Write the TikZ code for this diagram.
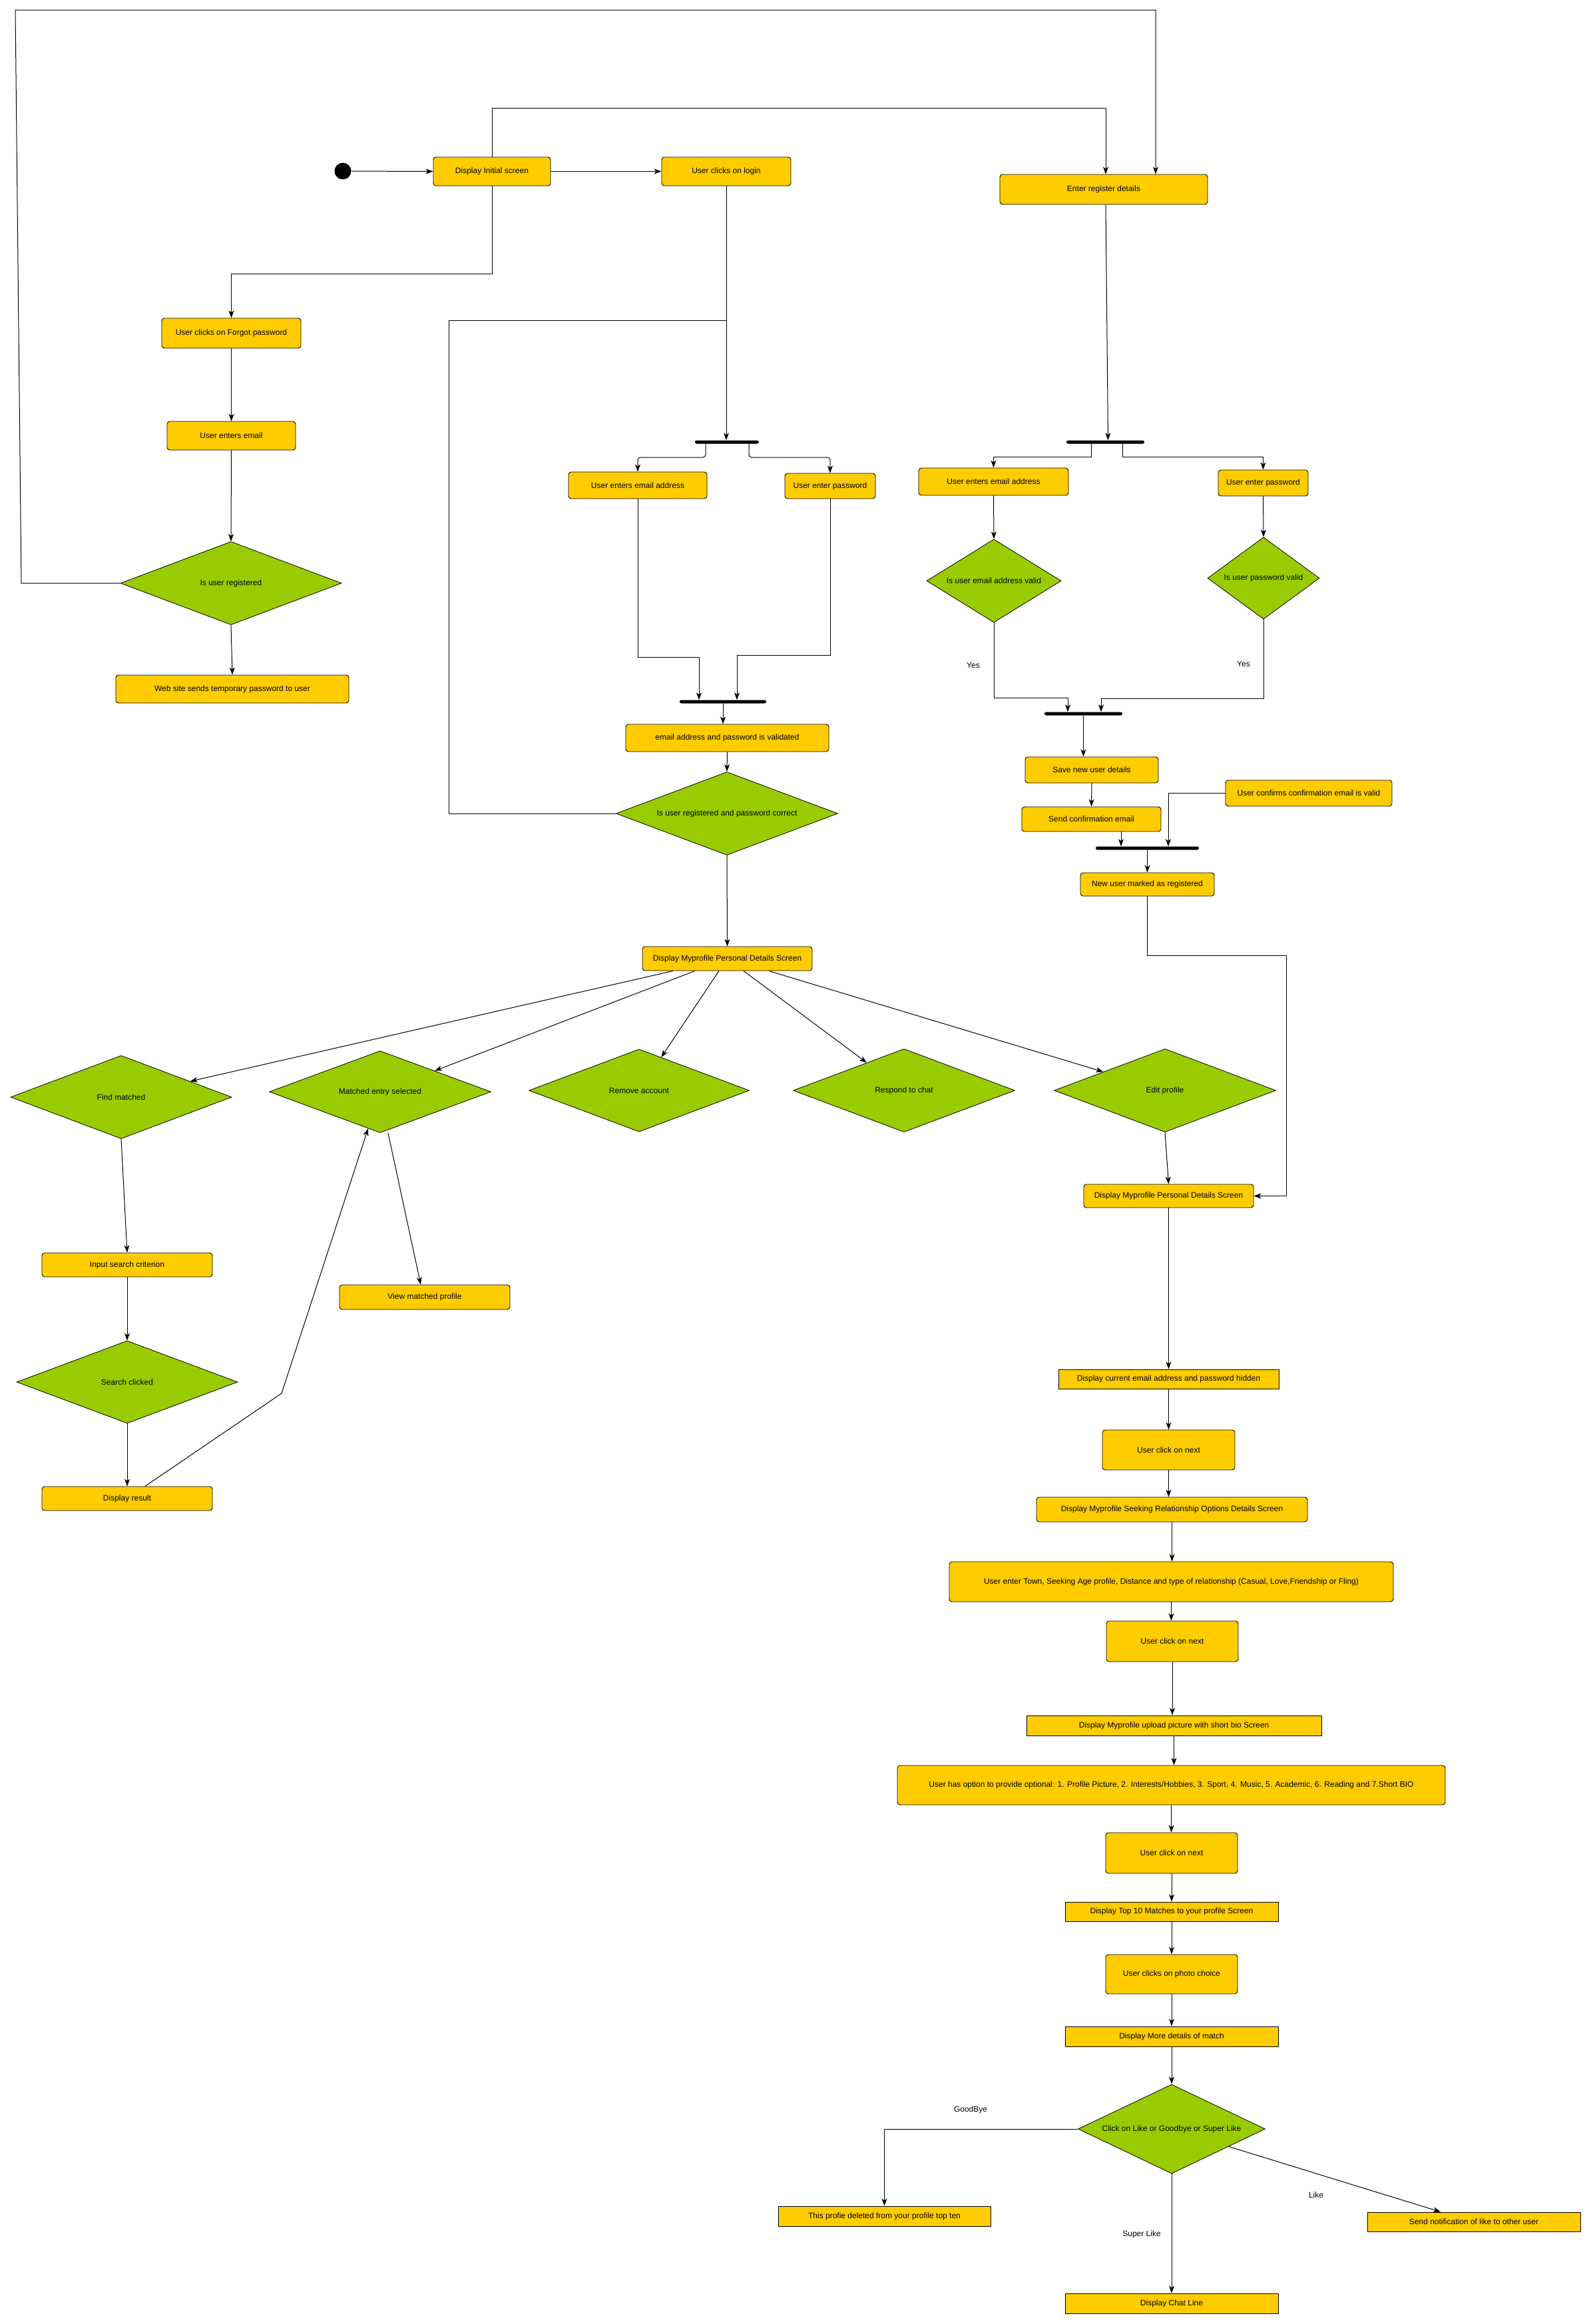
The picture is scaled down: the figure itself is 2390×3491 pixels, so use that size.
\documentclass[tikz,border=0pt]{standalone}
\usepackage{fontspec}
\setmainfont{Liberation Sans}
\usetikzlibrary{shapes.geometric,arrows.meta,calc}
\definecolor{actyellow}{RGB}{255,204,0}
\definecolor{decgreen}{RGB}{153,204,0}

\begin{document}
\begin{tikzpicture}[x=1pt, y=-1pt, font=\fontsize{12pt}{14pt}\selectfont,
    act/.style={draw=black, fill=actyellow, rounded corners=4pt, inner sep=2pt, line width=0.9pt},
    scr/.style={draw=black, fill=actyellow, inner sep=2pt, line width=0.9pt},
    dec/.style={diamond, draw=black, fill=decgreen, inner sep=0pt, aspect=2.66, line width=0.8pt},
    bar/.style={rectangle, fill=black, rounded corners=2.5pt, minimum height=5pt, inner sep=0pt},
    lbl/.style={inner sep=1pt},
    flow/.style={-{Stealth[length=11pt,width=8pt,inset=3pt]}, line width=1pt},
    link/.style={line width=1pt}]

\useasboundingbox (0,0) rectangle (2390,3491);
\fill[white] (0,0) rectangle (2390,3491);

% start and login branch
\node[circle, fill=black, minimum size=25pt, inner sep=0pt] (start) at (515,257) {};
\node[act, minimum width=176pt, minimum height=43pt] (init) at (739,257.5) {Display Initial screen};
\node[act, minimum width=194pt, minimum height=43pt] (login) at (1091,257.5) {User clicks on login};
\node[act, minimum width=312pt, minimum height=45pt] (reg) at (1658,284.5) {Enter register details};

% forgot password
\node[act, minimum width=209pt, minimum height=45pt] (forgot) at (347.5,500.5) {User clicks on Forgot password};
\node[act, minimum width=193pt, minimum height=43pt] (fmail) at (347.5,654.5) {User enters email};
\node[dec, minimum width=332pt, minimum height=125pt] (isreg) at (347,876) {Is user registered};
\node[act, minimum width=350pt, minimum height=42pt] (temp) at (349,1035) {Web site sends temporary password to user};

% login fork / join
\node[bar, minimum width=96pt] (fork1) at (1092,664) {};
\node[act, minimum width=208pt, minimum height=40pt] (lmail) at (958,729) {User enters email address};
\node[act, minimum width=136pt, minimum height=38pt] (lpass) at (1247,730) {User enter password};
\node[bar, minimum width=130pt] (join1) at (1086,1054) {};
\node[act, minimum width=305pt, minimum height=41pt] (valid) at (1092.5,1108.5) {email address and password is validated};
\node[dec, minimum width=333pt, minimum height=125pt] (regok) at (1092,1222) {Is user registered and password correct};
\node[act, minimum width=255pt, minimum height=36pt] (prof) at (1092.5,1440) {Display Myprofile Personal Details Screen};

% register fork / join
\node[bar, minimum width=117pt] (fork2) at (1660.5,664) {};
\node[act, minimum width=225pt, minimum height=41pt] (rmail) at (1492.5,723.5) {User enters email address};
\node[act, minimum width=135pt, minimum height=39pt] (rpass) at (1897.5,725.5) {User enter password};
\node[dec, minimum width=202pt, minimum height=125pt, aspect=1.6] (mailok) at (1493,872.5) {Is user email address valid};
\node[dec, minimum width=168pt, minimum height=123pt, aspect=1.37] (passok) at (1898,868.5) {Is user password valid};
\node[lbl] (yes1) at (1462,999) {Yes};
\node[lbl] (yes2) at (1868,997) {Yes};
\node[bar, minimum width=117pt] (join2) at (1627.5,1072) {};
\node[act, minimum width=200pt, minimum height=39pt] (save) at (1640,1156.5) {Save new user details};
\node[act, minimum width=209pt, minimum height=37pt] (send) at (1639.5,1230.5) {Send confirmation email};
\node[act, minimum width=250pt, minimum height=39pt] (confirm) at (1966,1191.5) {User confirms confirmation email is valid};
\node[bar, minimum width=155pt] (join3) at (1723.5,1274) {};
\node[act, minimum width=201pt, minimum height=35pt] (marked) at (1723.5,1328.5) {New user marked as registered};

% profile choices
\node[dec, minimum width=332pt, minimum height=125pt] (find) at (182,1648) {Find matched};
\node[dec, minimum width=333pt, minimum height=123pt] (matched) at (571,1640) {Matched entry selected};
\node[dec, minimum width=331pt, minimum height=124pt] (remove) at (960,1638) {Remove account};
\node[dec, minimum width=333pt, minimum height=125pt] (chat) at (1358,1638) {Respond to chat};
\node[dec, minimum width=333pt, minimum height=125pt] (edit) at (1750,1638) {Edit profile};
\node[act, minimum width=256pt, minimum height=36pt] (search) at (191,1900) {Input search criterion};
\node[dec, minimum width=332pt, minimum height=124pt] (searchd) at (191,2076) {Search clicked};
\node[act, minimum width=256pt, minimum height=36pt] (result) at (191,2251) {Display result};
\node[act, minimum width=256pt, minimum height=37pt] (view) at (638,1948.5) {View matched profile};

% edit profile column
\node[act, minimum width=255pt, minimum height=35pt] (prof2) at (1755.5,1796.5) {Display Myprofile Personal Details Screen};
\node[scr, minimum width=331pt, minimum height=29pt] (current) at (1755.5,2071.5) {Display current email address and password hidden};
\node[act, minimum width=199pt, minimum height=60pt] (next1) at (1755.5,2178) {User click on next};
\node[act, minimum width=407pt, minimum height=37pt] (seek) at (1760.5,2267.5) {Display Myprofile Seeking Relationship Options Details Screen};
\node[act, minimum width=667pt, minimum height=60pt] (town) at (1759.5,2376) {User enter Town, Seeking Age profile, Distance and type of relationship (Casual, Love,Friendship or Fling)};
\node[act, minimum width=198pt, minimum height=61pt] (next2) at (1761,2465.5) {User click on next};
\node[scr, minimum width=443pt, minimum height=30pt] (upload) at (1763.5,2592) {Display Myprofile upload picture with short bio Screen};
\node[act, minimum width=823pt, minimum height=59pt] (option) at (1759.5,2681.5) {User has option to provide optional: 1. Profile Picture, 2. Interests/Hobbies, 3. Sport, 4. Music, 5. Academic, 6. Reading and 7.Short BIO};
\node[act, minimum width=198pt, minimum height=61pt] (next3) at (1760,2783.5) {User click on next};
\node[scr, minimum width=320pt, minimum height=29pt] (top10) at (1760,2871.5) {Display Top 10 Matches to your profile Screen};
\node[act, minimum width=198pt, minimum height=59pt] (photo) at (1760,2965.5) {User clicks on photo choice};
\node[scr, minimum width=320pt, minimum height=30pt] (more) at (1760,3059) {Display More details of match};
\node[dec, minimum width=281pt, minimum height=134pt, aspect=2.1] (choice) at (1760,3198) {Click on Like or Goodbye or Super Like};
\node[scr, minimum width=319pt, minimum height=30pt] (deleted) at (1328.5,3329) {This profie deleted from your profile top ten};
\node[scr, minimum width=320pt, minimum height=29pt] (notify) at (2214,3337.5) {Send notification of like to other user};
\node[scr, minimum width=320pt, minimum height=30pt] (chatline) at (1760,3460) {Display Chat Line};
\node[lbl] (gbye) at (1458,3169) {GoodBye};
\node[lbl] (like) at (1977,3297) {Like};
\node[lbl] (slike) at (1715,3356) {Super Like};

% connectors: top
\draw[flow] (start) -- (init.west);
\draw[flow] (init.east) -- (login.west);
\draw[flow] (init.north) -- (init.north |- 0,162) -| ([xshift=3pt]reg.north);
\draw[flow] (isreg.west) -- (32,876) -- (23,15) -- (1736,15) -- ([xshift=78pt]reg.north);
\draw[flow] (init.south) -- (init.south |- 0,411) -| (forgot.north);
\draw[flow] (forgot.south) -- (fmail.north);
\draw[flow] (fmail.south) -- (isreg.north);
\draw[flow] (isreg.south) -- (temp.north);

% connectors: login
\draw[flow] (login.south) -- (login.south |- fork1.north);
\draw[link] (regok.west) -| (674,481) -- (login.south |- 0,481);
\draw[flow, rounded corners=4pt] ([xshift=-32pt]fork1.center) -- ++(0,23) -| (lmail.north);
\draw[flow, rounded corners=4pt] ([xshift=33pt]fork1.center) -- ++(0,23) -| (lpass.north);
\draw[flow] (lmail.south) -- (lmail.south |- 0,987) -| ([xshift=-36pt]join1.north);
\draw[flow] (lpass.south) -- (lpass.south |- 0,984) -| ([xshift=21pt]join1.north);
\draw[flow] (join1.south) -- (join1.south |- valid.north);
\draw[flow] (valid.south) -- (regok.north);
\draw[flow] (regok.south) -- (prof.north);

% connectors: register
\draw[flow] ([xshift=3pt]reg.south) -- ([xshift=4pt]fork2.north);
\draw[flow] ([xshift=-21pt]fork2.center) -- ++(0,22) -| (rmail.north);
\draw[flow] ([xshift=26pt]fork2.center) -- ++(0,22) -| (rpass.north);
\draw[flow] (rmail.south) -- (mailok.north);
\draw[flow] (rpass.south) -- (passok.north);
\draw[flow] (mailok.south) -- (mailok.south |- 0,1048) -| ([xshift=-23.5pt]join2.north);
\draw[flow] (passok.south) -- (passok.south |- 0,1049) -| ([xshift=26.5pt]join2.north);
\draw[flow] (join2.south) -- (join2.south |- save.north);
\draw[flow] (save.south) -- (send.north);
\draw[flow] ([xshift=44.5pt]send.south) -- ([xshift=44.5pt]send.south |- join3.north);
\draw[flow] (confirm.west) -| ([xshift=31.5pt]join3.north);
\draw[flow] (join3.south) -- (marked.north);
\draw[flow] (marked.south) -- (marked.south |- 0,1435) -| (1932,1796.5) -- (prof2.east);

% connectors: profile choices
\draw[flow] ([xshift=-81.5pt]prof.south) -- (find);
\draw[flow] ([xshift=-48.5pt]prof.south) -- (matched);
\draw[flow] ([xshift=-12.5pt]prof.south) -- (remove);
\draw[flow] ([xshift=24.5pt]prof.south) -- (chat);
\draw[flow] ([xshift=62.5pt]prof.south) -- (edit);
\draw[flow] (find.south) -- (search.north);
\draw[flow] (search.south) -- (searchd.north);
\draw[flow] (searchd.south) -- (result.north);
\draw[flow] ([xshift=27pt]result.north) -- (423,2093) -- (matched);
\draw[flow] ([xshift=12pt]matched.south) -- ([xshift=-6pt]view.north);

% connectors: edit profile column
\draw[flow] (edit.south) -- (prof2.north);
\draw[flow] (prof2.south) -- (current.north);
\draw[flow] (current.south) -- (next1.north);
\draw[flow] (next1.south) -- (next1.south |- seek.north);
\draw[flow] (seek.south) -- (seek.south |- town.north);
\draw[flow] (town.south) -- (town.south |- next2.north);
\draw[flow] (next2.south) -- (next2.south |- upload.north);
\draw[flow] (upload.south) -- (upload.south |- option.north);
\draw[flow] (option.south) -- (option.south |- next3.north);
\draw[flow] (next3.south) -- (top10.north);
\draw[flow] (top10.south) -- (photo.north);
\draw[flow] (photo.south) -- (more.north);
\draw[flow] (more.south) -- (choice.north);
\draw[flow] (choice.west) -| (deleted.north);
\draw[flow] (choice) -- ([xshift=-50pt]notify.north);
\draw[flow] (choice.south) -- (chatline.north);

\end{tikzpicture}
\end{document}
